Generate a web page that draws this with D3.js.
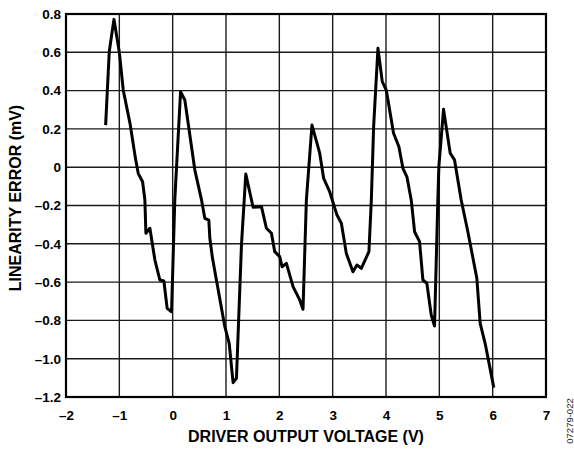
<!DOCTYPE html>
<html>
<head>
<meta charset="utf-8">
<script src="https://cdn.jsdelivr.net/npm/d3@7"></script>
<style>
body{margin:0;background:#fff;}
svg text{font-family:"Liberation Sans",Arial,sans-serif;}
.tick text{font-weight:bold;font-size:13.5px;fill:#000;}
</style>
</head>
<body>
<div id="chart"></div>
<script>
var width = 574,
    height = 450;

var margin = {left:66, top:14, right:28, bottom:53};

// tick values
var xTicks = [-2,-1,0,1,2,3,4,5,6,7];
var yTicks = [0.8,0.6,0.4,0.2,0,-0.2,-0.4,-0.6,-0.8,-1.0,-1.2];

// driver output voltage (V)
var volts = [-1.257,-1.189,-1.101,-1.0,-0.927,-0.80,-0.70,-0.646,-0.564,-0.521,-0.502,-0.427,-0.333,
  -0.24,-0.165,-0.103,-0.021,0.04,0.148,0.228,0.416,0.541,0.603,0.678,0.697,0.747,0.978,1.06,1.133,1.196,
  1.29,1.371,1.508,1.665,1.758,1.852,1.914,2.007,2.051,2.133,2.257,2.382,2.444,2.507,2.612,2.757,2.831,
  2.944,3.081,3.163,3.256,3.38,3.455,3.537,3.68,3.725,3.768,3.849,3.93,4.005,4.142,4.242,4.317,4.392,
  4.473,4.536,4.629,4.692,4.766,4.848,4.91,4.972,4.991,5.079,5.204,5.285,5.41,5.535,5.703,5.766,5.865,6.021];
// linearity error (mV)
var errs = [0.22,0.603,0.772,0.6,0.403,0.229,0.05,-0.032,-0.076,-0.171,-0.345,-0.319,-0.485,
  -0.589,-0.594,-0.737,-0.755,-0.171,0.394,0.351,-0.015,-0.171,-0.267,-0.276,-0.371,-0.476,-0.833,-0.92,-1.125,-1.102,
  -0.406,-0.036,-0.209,-0.206,-0.319,-0.345,-0.441,-0.467,-0.52,-0.502,-0.624,-0.693,-0.742,-0.171,0.22,0.073,-0.058,
  -0.128,-0.25,-0.293,-0.45,-0.546,-0.511,-0.528,-0.441,-0.171,0.212,0.621,0.447,0.403,0.177,0.107,-0.006,-0.05,
  -0.171,-0.337,-0.389,-0.589,-0.606,-0.772,-0.829,-0.171,0.003,0.302,0.073,0.038,-0.171,-0.337,-0.58,-0.815,-0.928,-1.151];

var x = d3.scaleLinear().domain([-2,7]).range([margin.left, width-margin.right]);
var y = d3.scaleLinear().domain([-1.2,0.8]).range([height-margin.bottom, margin.top]);

var svg = d3.select("#chart").append("svg")
    .attr("width", width)
    .attr("height", height);

// d3.format gives U+2212, the chart uses an en dash
var dash = function(s){ return s.replace("\u2212", "\u2013").replace("-", "\u2013"); };

// grid
var grid = svg.append("g");
grid.selectAll(".vg").data(xTicks).enter().append("line")
    .attr("x1", function(d){return x(d);}).attr("x2", function(d){return x(d);})
    .attr("y1", y(0.8)).attr("y2", y(-1.2))
    .attr("stroke", "#1a1a1a").attr("stroke-width", 1.4);
grid.selectAll(".hg").data(yTicks).enter().append("line")
    .attr("y1", function(d){return y(d);}).attr("y2", function(d){return y(d);})
    .attr("x1", x(-2)).attr("x2", x(7))
    .attr("stroke", "#1a1a1a").attr("stroke-width", 1.4);

// frame
svg.append("rect")
    .attr("x", x(-2)).attr("y", y(0.8))
    .attr("width", x(7)-x(-2)).attr("height", y(-1.2)-y(0.8))
    .attr("fill", "none").attr("stroke", "#000").attr("stroke-width", 2.2);

// tick labels
var xAxis = d3.axisBottom(x).tickValues(xTicks).tickSize(0).tickPadding(0)
    .tickFormat(function(d){ return dash(d3.format("d")(d)); });
var gx = svg.append("g").attr("transform", "translate(0,420)").call(xAxis);
gx.select(".domain").remove();
gx.selectAll("text").attr("dy", 0);

var yAxis = d3.axisLeft(y).tickValues(yTicks).tickSize(0).tickPadding(0)
    .tickFormat(function(d){ return d === 0 ? "0" : dash(d3.format(".1f")(d)); });
var gy = svg.append("g").attr("transform", "translate(" + (x(-2)-5) + ",0)").call(yAxis);
gy.select(".domain").remove();

// curve
var pts = volts.map(function(v,i){ return [v, errs[i]]; });
var line = d3.line().x(function(d){return x(d[0]);}).y(function(d){return y(d[1]);});
svg.append("path").datum(pts)
    .attr("d", line)
    .attr("fill", "none").attr("stroke", "#000")
    .attr("stroke-width", 3).attr("stroke-linejoin", "round");

// titles
svg.append("text")
    .attr("x", (x(-2)+x(7))/2).attr("y", 442)
    .attr("text-anchor", "middle").attr("font-size", 16).attr("font-weight", "bold")
    .text("DRIVER OUTPUT VOLTAGE (V)");

svg.append("text")
    .attr("transform", "translate(21,198) rotate(-90)")
    .attr("text-anchor", "middle").attr("font-size", 16).attr("font-weight", "bold")
    .text("LINEARITY ERROR (mV)");

svg.append("text")
    .attr("transform", "translate(573,421) rotate(-90)")
    .attr("text-anchor", "middle").attr("font-size", 9.5).attr("fill", "#222")
    .text("07279-022");
</script>
</body>
</html>
